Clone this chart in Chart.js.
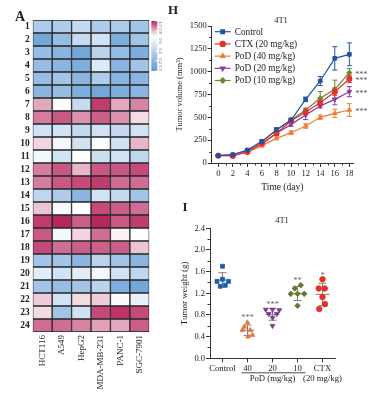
<!DOCTYPE html>
<html>
<head>
<meta charset="utf-8">
<script src="https://cdn.jsdelivr.net/npm/chart.js@4.4.1/dist/chart.umd.min.js"></script>
<style>
  body { margin: 0; background: #fff; }
  #page { position: relative; width: 369px; height: 393px; overflow: hidden; background: #fff; }
  canvas { position: absolute; }
  .txt { position: absolute; font-family: 'Liberation Serif', serif; color: #222; white-space: nowrap; transform: translate(-50%, -50%); }
  .panel { font-weight: bold; font-size: 14px; }
  .title { font-size: 8.5px; }
</style>
</head>
<body>
<div id="page">
  <canvas id="heat" width="168" height="393" style="left:0;top:0"></canvas>
  <canvas id="volume" width="204" height="200" style="left:165px;top:0"></canvas>
  <canvas id="weight" width="204" height="198" style="left:165px;top:195px"></canvas>
  <div class="txt panel" style="left:20px;top:17px">A</div>
  <div class="txt panel" style="left:173px;top:10px;font-size:13px">H</div>
  <div class="txt panel" style="left:185px;top:207px;font-size:13px">I</div>
  <div class="txt title" style="left:281px;top:20px">4T1</div>
  <div class="txt title" style="left:282px;top:220px">4T1</div>
</div>
<script>
Chart.defaults.font.family = "'Liberation Serif', serif";
Chart.defaults.color = '#222';
Chart.defaults.animation = false;

// ---- A: heatmap (values 0..1, one array per cell line, rows 1..24)
const rowLabels = ['1', '2', '3', '4', '5', '6', '7', '8', '9', '10', '11', '12',
  '13', '14', '15', '16', '17', '18', '19', '20', '21', '22', '23', '24'];
const cellLines = ['HCT116', 'A549', 'HepG2', 'MDA-MB-231', 'PANC-1', 'SGC-7901'];
const hct116 = [0.35, 0.1, 0.25, 0.25, 0.25, 0.2, 0.82, 0.88, 0.5, 0.76, 0.65, 0.88, 0.88, 0.42, 0.78, 0.97, 0.93, 0.95, 0.3, 0.58, 0.3, 0.77, 0.75, 0.9];
const a549 = [0.35, 0.25, 0.2, 0.2, 0.3, 0.25, 0.68, 0.93, 0.5, 0.65, 0.5, 0.93, 0.93, 0.35, 0.66, 1.0, 0.65, 0.9, 0.3, 0.5, 0.25, 0.5, 0.3, 0.9];
const hepg2 = [0.45, 0.45, 0.1, 0.15, 0.2, 0.15, 0.45, 0.85, 0.45, 0.5, 0.7, 0.8, 0.95, 0.2, 0.7, 0.92, 0.76, 0.92, 0.2, 0.58, 0.3, 0.75, 0.5, 0.87];
const mda231 = [0.35, 0.5, 0.4, 0.55, 0.35, 0.1, 0.97, 0.92, 0.5, 0.68, 0.48, 0.93, 0.97, 0.5, 0.95, 1.0, 0.9, 0.92, 0.4, 0.65, 0.4, 0.77, 0.95, 0.83];
const panc1 = [0.35, 0.15, 0.25, 0.2, 0.2, 0.15, 0.82, 0.85, 0.45, 0.5, 0.5, 0.93, 0.9, 0.45, 0.92, 0.93, 0.72, 0.92, 0.3, 0.5, 0.15, 0.68, 0.98, 0.82];
const sgc7901 = [0.3, 0.3, 0.15, 0.3, 0.2, 0.2, 0.87, 0.75, 0.5, 0.8, 0.42, 0.95, 0.9, 0.3, 0.9, 0.97, 0.7, 0.78, 0.2, 0.42, 0.1, 0.6, 0.95, 0.92];
const legendTicks = [0, 0.2, 0.4, 0.6, 0.8, 1.0];

// ---- H: tumour volume over time
const days = [0, 2, 4, 6, 8, 10, 12, 14, 16, 18];
const volControl = [80, 91, 142, 237, 365, 471, 697, 898, 1146, 1190];
const volCtx = [80, 77, 120, 215, 325, 463, 558, 660, 781, 920];
const volPod40 = [80, 88, 117, 190, 270, 332, 405, 500, 544, 580];
const volPod20 = [80, 85, 125, 208, 325, 423, 525, 624, 697, 781];
const volPod10 = [80, 90, 135, 234, 361, 471, 580, 708, 807, 989];
const errControl = [10, 10, 15, 20, 20, 20, 25, 50, 128, 125];
const errCtx = [8, 8, 10, 15, 20, 20, 25, 30, 40, 40];
const errPod40 = [8, 8, 10, 15, 15, 20, 25, 25, 45, 70];
const errPod20 = [8, 8, 10, 15, 20, 20, 50, 20, 60, 55];
const errPod10 = [8, 8, 10, 15, 20, 20, 20, 75, 100, 45];
const volNames = ['Control', 'CTX (20 mg/kg)', 'PoD (40 mg/kg)', 'PoD (20 mg/kg)', 'PoD (10 mg/kg)'];
const volStars = ['', '***', '***', '***', '***'];

// ---- I: tumour weight per group (x jitter in category units)
const groups = ['Control', '40', '20', '10', 'CTX'];
const groupSub = ['', '', 'PoD (mg/kg)', '', '(20 mg/kg)'];
const wControl = [1.70, 1.46, 1.42, 1.42, 1.33, 1.35];
const jControl = [0, 0, -0.22, 0.24, -0.09, 0.11];
const wPod40 = [0.66, 0.58, 0.52, 0.52, 0.43, 0.40];
const jPod40 = [0, -0.13, -0.2, 0.11, 0.2, 0.02];
const wPod20 = [0.90, 0.90, 0.89, 0.82, 0.82, 0.75, 0.60];
const jPod20 = [-0.27, 0, 0.27, -0.15, 0.17, 0, 0];
const wPod10 = [1.35, 1.29, 1.19, 1.19, 1.19, 0.97];
const jPod10 = [0.13, -0.11, -0.27, 0, 0.27, 0];
const wCtx = [1.46, 1.29, 1.29, 1.13, 1.00, 0.91];
const jCtx = [0, -0.15, 0.09, 0, 0.1, -0.13];
const weightStars = ['', '***', '***', '**', '*'];
const weightStarY = [0, 0.78, 1.02, 1.46, 1.56];

// ---------------------------------------------------------------
const AXIS = '#333';

function mix(a, b, t) {
  return 'rgb(' + a.map((c, i) => Math.round(c + (b[i] - c) * t)).join(',') + ')';
}
function heatColor(v) {
  const blue = [92, 152, 212], white = [255, 255, 255], pink = [183, 38, 94];
  if (v <= 0.7) return mix(blue, white, v / 0.7);
  return mix(white, pink, (v - 0.7) / 0.3);
}

function drawMarker(ctx, style, rot, r, x, y) {
  if (Chart.helpers && Chart.helpers.drawPoint) {
    Chart.helpers.drawPoint(ctx, { pointStyle: style, rotation: rot, radius: r, borderWidth: 1 }, x, y);
  } else {
    ctx.beginPath(); ctx.arc(x, y, r, 0, Math.PI * 2); ctx.fill(); ctx.stroke();
  }
}

const minorTicks = {
  id: 'minorTicks',
  afterDraw(chart, args, opts) {
    const ctx = chart.ctx;
    ctx.save();
    ctx.strokeStyle = AXIS;
    ctx.lineWidth = 1;
    (opts.axes || []).forEach((id) => {
      const s = chart.scales[id];
      const t = s.ticks;
      for (let i = 0; i + 1 < t.length; i++) {
        const p = Math.round(s.getPixelForValue((t[i].value + t[i + 1].value) / 2)) + 0.5;
        ctx.beginPath();
        if (s.isHorizontal()) { ctx.moveTo(p, s.top); ctx.lineTo(p, s.top + 2.5); }
        else { ctx.moveTo(s.right, p); ctx.lineTo(s.right - 2.5, p); }
        ctx.stroke();
      }
    });
    ctx.restore();
  }
};

// ---- heatmap
const heatSets = [hct116, a549, hepg2, mda231, panc1, sgc7901].map((vals, i) => ({
  label: cellLines[i],
  data: vals.map(() => 1),
  backgroundColor: vals.map(heatColor),
  borderColor: '#262626',
  borderWidth: 1,
  borderSkipped: false,
  barPercentage: 1,
  categoryPercentage: 1
}));

const heatLegend = {
  id: 'heatLegend',
  afterDraw(chart) {
    const ctx = chart.ctx;
    const x0 = chart.chartArea.right + 2, y0 = chart.chartArea.top + 1, w = 6, h = 50;
    const g = ctx.createLinearGradient(0, y0 + h, 0, y0);
    for (let k = 0; k <= 10; k++) g.addColorStop(k / 10, heatColor(k / 10));
    ctx.save();
    ctx.fillStyle = g;
    ctx.fillRect(x0, y0, w, h);
    ctx.strokeStyle = '#fff';
    ctx.fillStyle = '#555';
    ctx.font = "4.5px 'Liberation Serif', serif";
    ctx.textAlign = 'center';
    ctx.textBaseline = 'middle';
    legendTicks.forEach((v) => {
      const y = y0 + h * (1 - v);
      ctx.beginPath(); ctx.moveTo(x0 + w - 2, y); ctx.lineTo(x0 + w, y); ctx.stroke();
      ctx.save();
      ctx.translate(x0 + w + 3, Math.min(Math.max(y, y0 + 3), y0 + h - 3));
      ctx.rotate(Math.PI / 2);
      ctx.fillText(v.toFixed(1), 0, 0);
      ctx.restore();
    });
    ctx.restore();
  }
};

new Chart(document.getElementById('heat'), {
  type: 'bar',
  data: { labels: rowLabels, datasets: heatSets },
  plugins: [heatLegend],
  options: {
    responsive: false,
    indexAxis: 'y',
    layout: { padding: { top: 20, right: 18.7, left: 0, bottom: 0 } },
    plugins: { legend: { display: false }, tooltip: { enabled: false } },
    scales: {
      x: {
        type: 'linear', stacked: true, min: 0, max: 6,
        afterBuildTicks: (axis) => { axis.ticks = cellLines.map((_, i) => ({ value: i + 0.5 })); },
        afterFit: (s) => { s.height = 61; },
        grid: { display: false, drawTicks: false },
        border: { display: false },
        ticks: {
          autoSkip: false, minRotation: 90, maxRotation: 90, padding: 3,
          font: { size: 9 },
          callback: (v) => cellLines[Math.floor(v)]
        }
      },
      y: {
        stacked: true,
        afterFit: (s) => { s.width = 32.7; },
        grid: { display: false, drawTicks: false },
        border: { display: false },
        ticks: { autoSkip: false, padding: 3, font: { size: 9.5, weight: 'bold' } }
      }
    }
  }
});

// ---- tumour volume
const volColors = ['#2352a5', '#e5302b', '#f07d3b', '#8b3a9e', '#6f8533'];
const volStyles = ['rect', 'circle', 'triangle', 'triangle', 'rectRot'];
const volRot = [0, 0, 0, 180, 0];
const volData = [volControl, volCtx, volPod40, volPod20, volPod10];
const volErr = [errControl, errCtx, errPod40, errPod20, errPod10];

const volSets = volData.map((vals, i) => ({
  label: volNames[i],
  data: vals.map((v, k) => ({ x: days[k], y: v })),
  errors: volErr[i],
  stars: volStars[i],
  borderColor: volColors[i],
  backgroundColor: volColors[i],
  borderWidth: 1.2,
  pointStyle: volStyles[i],
  pointRotation: volRot[i],
  pointRadius: 2.6,
  pointBorderWidth: 1,
  tension: 0
}));

const errorBars = {
  id: 'errorBars',
  beforeDatasetsDraw(chart) {
    const ctx = chart.ctx, xs = chart.scales.x, ys = chart.scales.y;
    ctx.save();
    ctx.lineWidth = 1;
    chart.data.datasets.forEach((ds) => {
      ctx.strokeStyle = ds.borderColor;
      ds.data.forEach((p, k) => {
        const e = ds.errors[k];
        const x = xs.getPixelForValue(p.x);
        const y1 = ys.getPixelForValue(p.y + e), y2 = ys.getPixelForValue(p.y - e);
        ctx.beginPath();
        ctx.moveTo(x, y1); ctx.lineTo(x, y2);
        ctx.moveTo(x - 2.5, y1); ctx.lineTo(x + 2.5, y1);
        ctx.moveTo(x - 2.5, y2); ctx.lineTo(x + 2.5, y2);
        ctx.stroke();
      });
    });
    ctx.restore();
  },
  afterDatasetsDraw(chart) {
    const ctx = chart.ctx, xs = chart.scales.x, ys = chart.scales.y;
    ctx.save();
    ctx.fillStyle = '#555';
    ctx.font = "8px 'Liberation Serif', serif";
    ctx.textAlign = 'left';
    ctx.textBaseline = 'middle';
    chart.data.datasets.forEach((ds) => {
      if (!ds.stars) return;
      const last = ds.data[ds.data.length - 1];
      ctx.fillText(ds.stars, xs.getPixelForValue(last.x) + 6, ys.getPixelForValue(last.y) + 2);
    });
    ctx.restore();
  }
};

const lineLegend = {
  id: 'lineLegend',
  afterDraw(chart) {
    const ctx = chart.ctx;
    const x0 = chart.chartArea.left + 3;
    ctx.save();
    ctx.font = "9.3px 'Liberation Serif', serif";
    ctx.textBaseline = 'middle';
    chart.data.datasets.forEach((ds, i) => {
      const y = chart.chartArea.top + 5.7 + i * 12.2;
      ctx.strokeStyle = ds.borderColor;
      ctx.fillStyle = ds.backgroundColor;
      ctx.lineWidth = 1.2;
      ctx.beginPath(); ctx.moveTo(x0, y); ctx.lineTo(x0 + 16, y); ctx.stroke();
      drawMarker(ctx, ds.pointStyle, ds.pointRotation, 2.6, x0 + 8, y);
      ctx.fillStyle = '#222';
      ctx.fillText(ds.label, x0 + 20, y + 0.5);
    });
    ctx.restore();
  }
};

const axisGrid = { drawOnChartArea: false, drawTicks: true, tickLength: 4, color: AXIS };

new Chart(document.getElementById('volume'), {
  type: 'line',
  data: { datasets: volSets },
  plugins: [errorBars, lineLegend, minorTicks],
  options: {
    responsive: false,
    layout: { padding: { top: 26, right: 16, left: 0, bottom: 0 } },
    plugins: { legend: { display: false }, tooltip: { enabled: false }, minorTicks: { axes: ['x', 'y'] } },
    scales: {
      x: {
        type: 'linear', min: -0.9, max: 18.5,
        afterBuildTicks: (axis) => { axis.ticks = days.map((d) => ({ value: d })); },
        afterFit: (s) => { s.height = 37; },
        grid: axisGrid,
        border: { color: AXIS, width: 1 },
        ticks: { padding: 2, font: { size: 8.5 }, callback: (v) => String(v) },
        title: { display: true, text: 'Time (day)', font: { size: 9.5 }, padding: { bottom: 6.6 } }
      },
      y: {
        min: 0, max: 1500,
        ticks: { stepSize: 250, padding: 1, font: { size: 8.5 }, callback: (v) => String(v) },
        afterFit: (s) => { s.width = 46.7; },
        grid: axisGrid,
        border: { color: AXIS, width: 1 },
        title: { display: true, text: 'Tumor volume (mm³)', font: { size: 8.5 }, padding: { top: 9.8 } }
      }
    }
  }
});

// ---- tumour weight
const wColors = ['#1f5ea8', '#e07a3c', '#7d3a90', '#61792f', '#e3302c'];
const wStyles = ['rect', 'triangle', 'triangle', 'rectRot', 'circle'];
const wRot = [0, 0, 180, 0, 0];
const wData = [wControl, wPod40, wPod20, wPod10, wCtx];
const wJit = [jControl, jPod40, jPod20, jPod10, jCtx];

const weightSets = wData.map((vals, i) => ({
  label: groups[i],
  data: vals.map((v, k) => ({ x: i + wJit[i][k], y: v })),
  group: i,
  backgroundColor: wColors[i],
  borderColor: wColors[i],
  pointStyle: wStyles[i],
  pointRotation: wRot[i],
  pointRadius: 2.8,
  pointBorderWidth: 0.8
}));

const meanSd = {
  id: 'meanSd',
  beforeDatasetsDraw(chart) {
    const ctx = chart.ctx, xs = chart.scales.x, ys = chart.scales.y;
    ctx.save();
    ctx.strokeStyle = '#808080';
    ctx.lineWidth = 1;
    chart.data.datasets.forEach((ds) => {
      const v = ds.data.map((p) => p.y);
      const m = v.reduce((a, b) => a + b, 0) / v.length;
      const sd = Math.sqrt(v.reduce((a, b) => a + (b - m) * (b - m), 0) / (v.length - 1));
      const x = xs.getPixelForValue(ds.group);
      const ym = ys.getPixelForValue(m), y1 = ys.getPixelForValue(m + sd), y2 = ys.getPixelForValue(m - sd);
      ctx.beginPath();
      ctx.moveTo(x - 7, ym); ctx.lineTo(x + 7, ym);
      ctx.moveTo(x, y1); ctx.lineTo(x, y2);
      ctx.moveTo(x - 4, y1); ctx.lineTo(x + 4, y1);
      ctx.moveTo(x - 4, y2); ctx.lineTo(x + 4, y2);
      ctx.stroke();
    });
    ctx.restore();
  },
  afterDraw(chart) {
    const ctx = chart.ctx, xs = chart.scales.x, ys = chart.scales.y;
    ctx.save();
    ctx.fillStyle = '#666';
    ctx.font = "8.5px 'Liberation Serif', serif";
    ctx.textAlign = 'center';
    ctx.textBaseline = 'middle';
    weightStars.forEach((s, i) => {
      if (s) ctx.fillText(s, xs.getPixelForValue(i), ys.getPixelForValue(weightStarY[i]) + 2);
    });
    // bracket under the PoD doses
    ctx.strokeStyle = '#222';
    ctx.lineWidth = 0.8;
    const yb = xs.top + 14.5;
    ctx.beginPath();
    ctx.moveTo(xs.getPixelForValue(1) - 6, yb);
    ctx.lineTo(xs.getPixelForValue(3) + 8, yb);
    ctx.stroke();
    ctx.restore();
  }
};

new Chart(document.getElementById('weight'), {
  type: 'scatter',
  data: { datasets: weightSets },
  plugins: [meanSd, minorTicks],
  options: {
    responsive: false,
    layout: { padding: { top: 33.3, right: 34, left: 0, bottom: 0 } },
    plugins: { legend: { display: false }, tooltip: { enabled: false }, minorTicks: { axes: ['y'] } },
    scales: {
      x: {
        type: 'linear', min: -0.5, max: 4.5,
        afterBuildTicks: (axis) => { axis.ticks = groups.map((_, i) => ({ value: i })); },
        afterFit: (s) => { s.height = 34.7; },
        grid: axisGrid,
        border: { color: AXIS, width: 1 },
        ticks: {
          padding: 1, font: { size: 8.7 }, autoSkip: false, maxRotation: 0,
          callback: (v) => groupSub[v] ? [groups[v], groupSub[v]] : groups[v]
        }
      },
      y: {
        min: 0, max: 2.4,
        ticks: { stepSize: 0.4, padding: 1, font: { size: 8.5 }, callback: (v) => v.toFixed(1) },
        afterFit: (s) => { s.width = 45; },
        grid: axisGrid,
        border: { color: AXIS, width: 1 },
        title: { display: true, text: 'Tumor weight (g)', font: { size: 9 }, padding: { top: 14.6 } }
      }
    }
  }
});
</script>
</body>
</html>
